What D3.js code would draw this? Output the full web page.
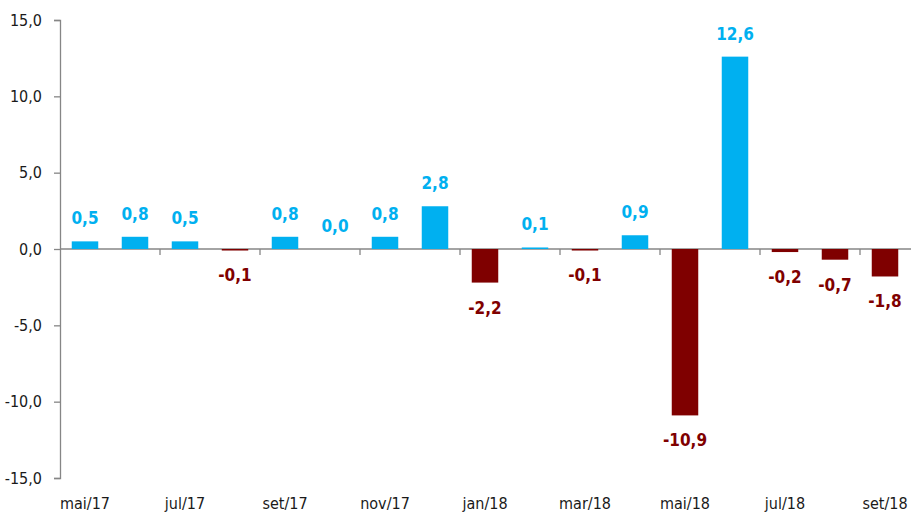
<!DOCTYPE html>
<html>
<head>
<meta charset="utf-8">
<script src="https://cdn.jsdelivr.net/npm/d3@7"></script>
<style>
  body { margin: 0; background: #fff; }
  svg text { font-family: 'DejaVu Sans Condensed', 'Liberation Sans', sans-serif; }
</style>
</head>
<body>
<svg id="chart" width="912" height="517"></svg>
<script>
const months = ['mai/17', 'jun/17', 'jul/17', 'ago/17', 'set/17', 'out/17', 'nov/17', 'dez/17',
  'jan/18', 'fev/18', 'mar/18', 'abr/18', 'mai/18', 'jun/18', 'jul/18', 'ago/18', 'set/18'];
const values = [0.5, 0.8, 0.5, -0.1, 0.8, 0.0, 0.8, 2.8, -2.2, 0.1, -0.1, 0.9, -10.9, 12.6, -0.2, -0.7, -1.8];
const yTicks = [-15, -10, -5, 0, 5, 10, 15];

const svg = d3.select('#chart');
const padding = { top: 20, right: 2, bottom: 39, left: 60 };
const width = +svg.attr('width');
const height = +svg.attr('height');

const data = months.map((m, i) => ({ month: m, value: values[i] }));

const xScale = d3.scaleBand()
  .domain(months)
  .range([padding.left, width - padding.right])
  .paddingInner(0.47)
  .paddingOuter(0.235);

const yScale = d3.scaleLinear()
  .domain([-15, 15])
  .range([height - padding.bottom, padding.top]);

const fmt = v => d3.format('.1f')(v).replace('.', ',').replace('−', '-');

// y axis
const yAxis = d3.axisLeft(yScale)
  .tickValues(yTicks)
  .tickSize(6)
  .tickPadding(12)
  .tickFormat(fmt);

const gy = svg.append('g')
  .attr('transform', 'translate(' + padding.left + ',0)')
  .call(yAxis);
gy.select('.domain').attr('stroke', '#868686').attr('stroke-width', 1.3);
gy.selectAll('.tick line').attr('stroke', '#868686').attr('stroke-width', 1.3);
gy.selectAll('.tick text')
  .attr('fill', '#1a1a1a')
  .style('font-size', '16px');

// x axis at zero
const y0 = yScale(0);
svg.append('line')
  .attr('x1', padding.left)
  .attr('x2', width - 1)
  .attr('y1', y0)
  .attr('y2', y0)
  .attr('stroke', '#868686')
  .attr('stroke-width', 1.3);

// tick marks between every second month
const tickX = d => xScale(d) - xScale.step() * 0.235 + xScale.step();
svg.selectAll('.xtick')
  .data(months.filter((d, i) => i % 2 === 1 && i < months.length - 1))
  .enter()
  .append('line')
  .attr('x1', tickX)
  .attr('x2', tickX)
  .attr('y1', y0)
  .attr('y2', y0 + 6)
  .attr('stroke', '#868686')
  .attr('stroke-width', 1.3);

// x labels at bottom
svg.selectAll('.xlabel')
  .data(months.filter((d, i) => i % 2 === 0))
  .enter()
  .append('text')
  .attr('x', d => xScale(d) + xScale.bandwidth() / 2)
  .attr('y', 509)
  .attr('text-anchor', 'middle')
  .attr('fill', '#1a1a1a')
  .style('font-size', '16px')
  .text(d => d);

// bars
svg.selectAll('.bar')
  .data(data)
  .enter()
  .append('rect')
  .attr('x', d => xScale(d.month))
  .attr('width', xScale.bandwidth())
  .attr('y', d => Math.min(yScale(d.value), y0))
  .attr('height', d => Math.abs(yScale(d.value) - y0))
  .attr('fill', d => (d.value < 0 ? '#7f0000' : '#00b0f0'));

// value labels
svg.selectAll('.val')
  .data(data)
  .enter()
  .append('text')
  .attr('x', d => xScale(d.month) + xScale.bandwidth() / 2)
  .attr('y', d => (d.value < 0 ? yScale(d.value) + 25 : yScale(d.value) - 23))
  .attr('dy', '0.35em')
  .attr('text-anchor', 'middle')
  .attr('fill', d => (d.value < 0 ? '#7f0000' : '#00b0f0'))
  .style('font-size', '17px')
  .style('font-weight', 'bold')
  .text(d => fmt(d.value));
</script>
</body>
</html>
